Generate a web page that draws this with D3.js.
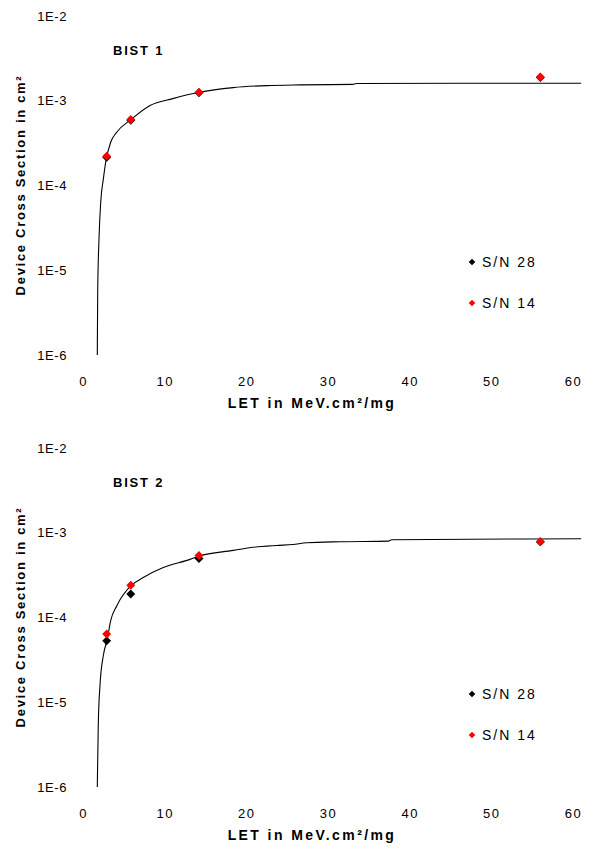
<!DOCTYPE html>
<html>
<head>
<meta charset="utf-8">
<script src="https://cdn.jsdelivr.net/npm/d3@7"></script>
<style>
  body { margin: 0; background: #fff; }
  text { font-family: "Liberation Sans", Arial, sans-serif; fill: #000; }
</style>
</head>
<body>
<div id="chart"></div>
<script>
// measured LET values (MeV.cm2/mg)
const letValues = [2.9, 5.85, 14.2, 56]
const bist1SN28 = [2.15e-4, 5.9e-4, 1.24e-3, 1.88e-3]
const bist1SN14 = [2.22e-4, 6.0e-4, 1.26e-3, 1.91e-3]
const bist2SN28 = [5.3e-5, 1.89e-4, 4.98e-4, 7.8e-4]
const bist2SN14 = [6.4e-5, 2.4e-4, 5.4e-4, 7.9e-4]

// fitted curves
const fit1LET = [1.75, 1.8, 1.96, 2.17, 2.49, 2.78, 3.39, 4.13, 5.88, 8.2, 11.0, 14.2, 18.4, 22.5, 26.6, 33.0, 33.5, 61]
const fit1Sigma = [1e-6, 5.6e-6, 2.35e-5, 6.4e-5, 1.19e-4, 1.89e-4, 3.24e-4, 4.25e-4, 6.0e-4, 8.8e-4, 1.06e-3, 1.26e-3, 1.43e-3, 1.51e-3, 1.54e-3, 1.56e-3, 1.6e-3, 1.61e-3]
const fit2LET = [1.75, 1.87, 2.08, 2.49, 2.98, 3.39, 4.13, 5.84, 7.38, 9.83, 13.1, 14.2, 18.4, 20.4, 23.7, 25.7, 27.4, 31.5, 37.4, 37.8, 61]
const fit2Sigma = [1e-6, 5.4e-6, 1.58e-5, 3.56e-5, 5.6e-5, 9.2e-5, 1.37e-4, 2.36e-4, 2.96e-4, 3.88e-4, 4.85e-4, 5.3e-4, 6.19e-4, 6.65e-4, 7.08e-4, 7.27e-4, 7.62e-4, 7.83e-4, 7.96e-4, 8.26e-4, 8.49e-4]

const xTicks = [0, 10, 20, 30, 40, 50, 60]
const yTicks = [1e-6, 1e-5, 1e-4, 1e-3, 1e-2]
const yTickLabels = ["1E-6", "1E-5", "1E-4", "1E-3", "1E-2"]
const seriesNames = ["S/N 28", "S/N 14"]
const seriesColors = ["#000000", "#ff0000"]

const panels = [
  { title: "BIST 1", fitL: fit1LET, fitS: fit1Sigma, sn28: bist1SN28, sn14: bist1SN14 },
  { title: "BIST 2", fitL: fit2LET, fitS: fit2Sigma, sn28: bist2SN28, sn14: bist2SN14 }
]

const width = 595, height = 847
const svg = d3.select("#chart").append("svg").attr("width", width).attr("height", height)

const diamond = size => d3.symbol().type(d3.symbolSquare).size(size)
const font = "'Liberation Sans', Arial, sans-serif"

panels.forEach((p, i) => {
  const off = i * 432
  const g = svg.append("g").attr("transform", `translate(0,${off})`)

  const xScale = d3.scaleLinear().domain([0, 60]).range([83, 573])
  const yScale = d3.scaleLog().domain([1e-6, 1e-2]).range([355, 16])

  const xAxis = d3.axisBottom(xScale).tickValues(xTicks).tickSize(0).tickPadding(0)
  let xGroup = g.append("g").attr("transform", "translate(0,377)").call(xAxis)
  xGroup.select(".domain").remove()
  xGroup.selectAll("text").attr("dy", "0.71em")
    .style("font-size", "13px").style("letter-spacing", "1.5px").style("font-family", font)

  const yAxis = d3.axisLeft(yScale).tickValues(yTicks).tickSize(0).tickPadding(0)
    .tickFormat((d, k) => yTickLabels[k])
  let yGroup = g.append("g").attr("transform", "translate(67,0)").call(yAxis)
  yGroup.select(".domain").remove()
  yGroup.selectAll("text")
    .style("font-size", "13px").style("letter-spacing", "0.6px").style("font-family", font)

  // fit line
  const line = d3.line()
    .x(d => xScale(d[0]))
    .y(d => yScale(d[1]))
    .curve(d3.curveMonotoneX)
  g.append("path")
    .datum(p.fitL.map((l, k) => [l, p.fitS[k]]))
    .attr("d", line)
    .attr("fill", "none")
    .attr("stroke", "#000")
    .attr("stroke-width", 1.1)

  // points
  const series = [p.sn28, p.sn14]
  series.forEach((vals, s) => {
    g.selectAll(".pt" + s).data(vals).enter().append("path")
      .attr("class", "pt" + s)
      .attr("d", diamond(40))
      .attr("transform", (d, k) => `translate(${xScale(letValues[k])},${yScale(d)}) rotate(45)`)
      .attr("fill", seriesColors[s])
  })

  // panel title
  g.append("text").attr("x", 113).attr("y", 55)
    .style("font-size", "13px").style("font-weight", "bold").style("letter-spacing", "1.8px")
    .text(p.title)

  // legend
  seriesNames.forEach((name, s) => {
    const ly = 262 + s * 41
    g.append("path").attr("d", diamond(22))
      .attr("transform", `translate(472,${ly}) rotate(45)`)
      .attr("fill", seriesColors[s])
    g.append("text").attr("x", 482).attr("y", ly).attr("dy", "0.36em")
      .style("font-size", "14px").style("letter-spacing", "2px")
      .text(name)
  })

  // axis titles
  g.append("text").attr("x", 312).attr("y", 408).attr("text-anchor", "middle")
    .style("font-size", "14px").style("font-weight", "bold").style("letter-spacing", "2.4px")
    .text("LET in MeV.cm²/mg")
  g.append("text").attr("transform", "translate(25,185) rotate(-90)").attr("text-anchor", "middle")
    .style("font-size", "13px").style("font-weight", "bold").style("letter-spacing", "1.7px")
    .text("Device Cross Section in cm²")
})
</script>
</body>
</html>
